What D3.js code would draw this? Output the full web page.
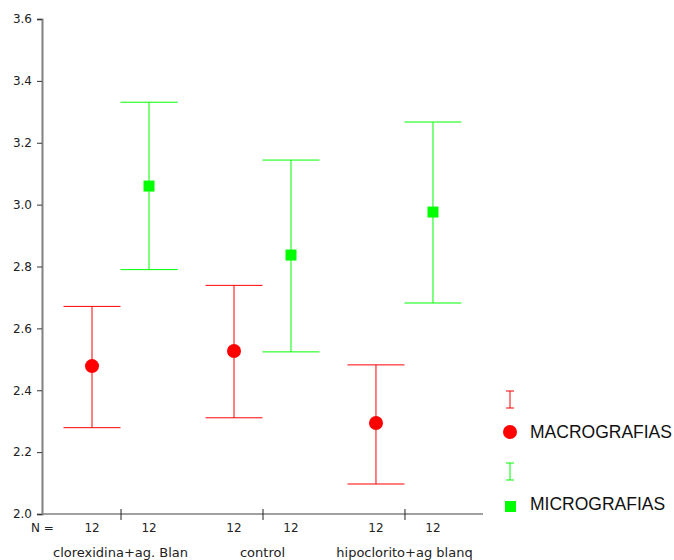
<!DOCTYPE html>
<html>
<head>
<meta charset="utf-8">
<script src="https://d3js.org/d3.v7.min.js"></script>
<style>
  body { margin: 0; background: #fff; }
  svg { display: block; }
</style>
</head>
<body>
<svg width="674" height="560"></svg>
<script>
var groups = ["clorexidina+ag. Blan", "control", "hipoclorito+ag blanq"];
var seriesNames = ["MACROGRAFIAS", "MICROGRAFIAS"];
var counts = [12, 12];
var yTicks = [2.0, 2.2, 2.4, 2.6, 2.8, 3.0, 3.2, 3.4, 3.6];

// mean, lower, upper per group
var macroMean = [2.478, 2.527, 2.294];
var macroLow  = [2.279, 2.311, 2.097];
var macroHigh = [2.671, 2.739, 2.482];
var microMean = [3.060, 2.837, 2.976];
var microLow  = [2.790, 2.524, 2.682];
var microHigh = [3.331, 3.144, 3.267];

var svg = d3.select("svg");
var colors = ["#ff0000", "#00ff00"];

var y = d3.scaleLinear().domain([2.0, 3.6]).range([514, 19]);
var x = d3.scalePoint().domain(groups).range([42, 483]).padding(0.553);
var off = d3.scalePoint().domain(seriesNames).range([-28.5, 28.5]);
var capW = 28.5;

// y axis
var yAxis = svg.append("g")
    .attr("transform", "translate(42,0)")
    .call(d3.axisLeft(y).tickValues(yTicks).tickFormat(d3.format(".1f")).tickSize(5).tickPadding(5));
yAxis.select(".domain").attr("stroke", "#808080").attr("stroke-width", 2);
yAxis.selectAll(".tick line").attr("stroke", "#333");
yAxis.selectAll("text").style("font-family", "DejaVu Sans").style("font-size", "12px").attr("fill", "#222");

// x axis
var xAxis = svg.append("g")
    .attr("transform", "translate(0,514)")
    .call(d3.axisBottom(x).tickSize(6).tickSizeOuter(0).tickFormat(""));
xAxis.select(".domain").attr("stroke", "#808080").attr("stroke-width", 1.5)
    .attr("d", "M42,0H483");
xAxis.selectAll(".tick line").attr("stroke", "#222").attr("y1", -5).attr("y2", 6);

var series = [
  {name: seriesNames[0], mean: macroMean, low: macroLow, high: macroHigh, color: colors[0]},
  {name: seriesNames[1], mean: microMean, low: microLow, high: microHigh, color: colors[1]}
];

series.forEach(function (s, si) {
  var g = svg.append("g");
  groups.forEach(function (grp, i) {
    var cx = x(grp) + off(s.name);
    g.append("line").attr("x1", cx).attr("x2", cx)
      .attr("y1", y(s.low[i])).attr("y2", y(s.high[i]))
      .attr("stroke", s.color).attr("stroke-width", 1);
    [s.low[i], s.high[i]].forEach(function (v) {
      g.append("line").attr("x1", cx - capW).attr("x2", cx + capW)
        .attr("y1", y(v)).attr("y2", y(v))
        .attr("stroke", s.color).attr("stroke-width", 1);
    });
    if (si === 0) {
      g.append("circle").attr("cx", cx).attr("cy", y(s.mean[i])).attr("r", 7)
        .attr("fill", s.color);
    } else {
      g.append("rect").attr("x", cx - 5.5).attr("y", y(s.mean[i]) - 5.5)
        .attr("width", 11).attr("height", 11).attr("fill", s.color);
    }
    // N labels
    svg.append("text").attr("x", cx).attr("y", 532)
      .attr("text-anchor", "middle")
      .style("font-family", "DejaVu Sans").style("font-size", "12px")
      .attr("fill", "#222").text(counts[si]);
  });
});

svg.append("text").attr("x", 31).attr("y", 532)
  .style("font-family", "DejaVu Sans").style("font-size", "12px")
  .attr("fill", "#222").text("N =");

groups.forEach(function (grp) {
  svg.append("text").attr("x", x(grp)).attr("y", 557)
    .attr("text-anchor", "middle")
    .style("font-family", "DejaVu Sans").style("font-size", "13px")
    .attr("fill", "#222").text(grp);
});

// legend
var legY = [400, 472];
series.forEach(function (s, si) {
  var ly = legY[si];
  var lg = svg.append("g");
  lg.append("line").attr("x1", 510).attr("x2", 510).attr("y1", ly - 9).attr("y2", ly + 8)
    .attr("stroke", s.color).attr("stroke-width", 1);
  [ly - 9, ly + 8].forEach(function (yy) {
    lg.append("line").attr("x1", 506).attr("x2", 514).attr("y1", yy).attr("y2", yy)
      .attr("stroke", s.color).attr("stroke-width", 1);
  });
  if (si === 0) {
    lg.append("circle").attr("cx", 510).attr("cy", ly + 32).attr("r", 7).attr("fill", s.color);
  } else {
    lg.append("rect").attr("x", 505).attr("y", ly + 29).attr("width", 11).attr("height", 11).attr("fill", s.color);
  }
  lg.append("text").attr("x", 530).attr("y", ly + 38)
    .style("font-family", "Liberation Sans").style("font-size", "17.5px")
    .attr("fill", "#111").text(s.name);
});
</script>
</body>
</html>
